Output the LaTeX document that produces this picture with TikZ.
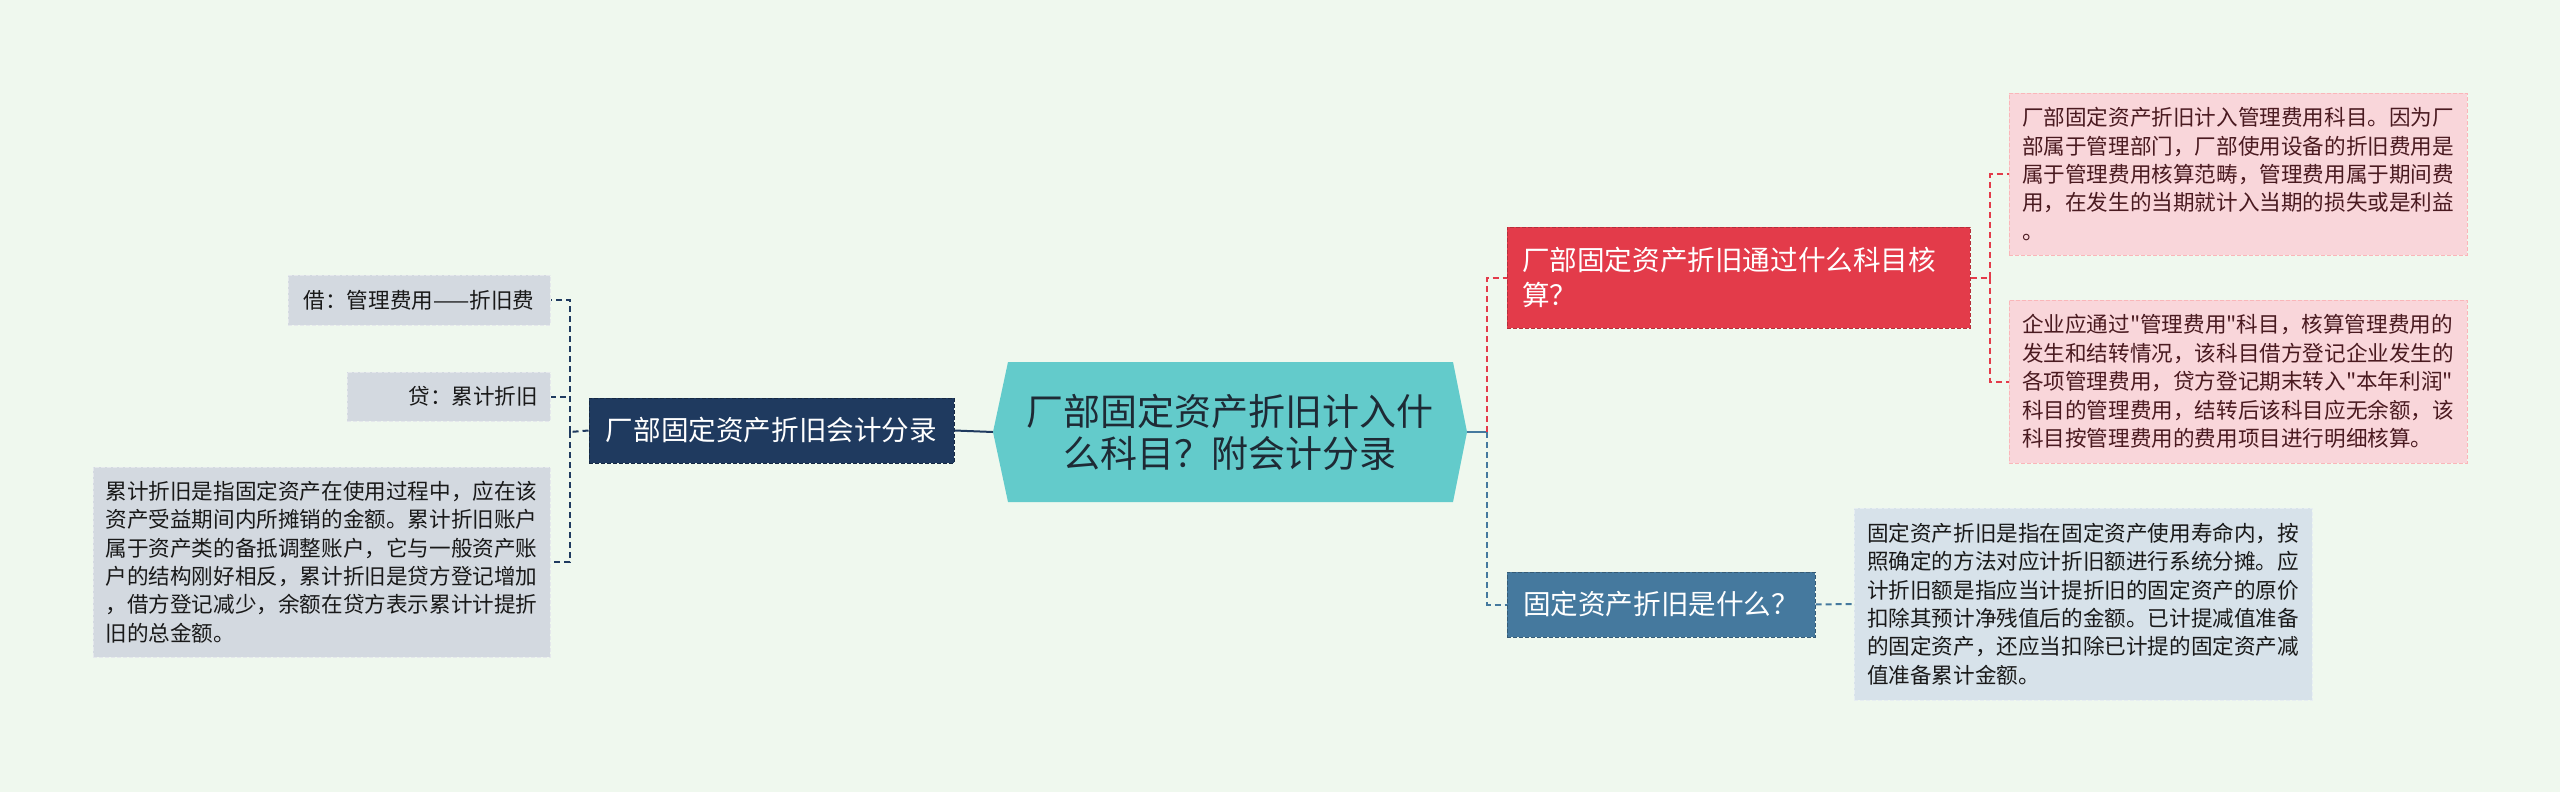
\documentclass[tikz,border=0pt]{standalone}
\usepackage{fontspec}
\setmainfont{Noto Sans CJK SC}[Ligatures=TeXOff]
\definecolor{bgc}{HTML}{EFF8EE}
\definecolor{tealc}{HTML}{63CBCB}
\definecolor{navyc}{HTML}{1F3A5F}
\definecolor{grayc}{HTML}{D3D9E0}
\definecolor{redc}{HTML}{E33B4A}
\definecolor{pinkc}{HTML}{F9D6DA}
\definecolor{steelc}{HTML}{45799E}
\definecolor{lbluec}{HTML}{D7E2EA}
\definecolor{maroonc}{HTML}{4A1A20}
\definecolor{darktext}{HTML}{1E2A35}
\begin{document}
\begin{tikzpicture}[x=1pt,y=-1pt,
  box/.style={inner sep=0pt, line width=1pt, dash pattern=on 4pt off 2pt},
  small/.style={font=\fontsize{21.6}{28.4}\selectfont},
  mid/.style={font=\fontsize{27.6}{35}\selectfont},
  central/.style={inner sep=0pt, minimum width=474pt, minimum height=140pt, align=center,
    fill=bgc, text=darktext, font=\fontsize{37}{42}\selectfont,
    path picture={\fill[tealc] ([xshift=15pt]path picture bounding box.north west) -- ([xshift=-14pt]path picture bounding box.north east) -- (path picture bounding box.east) -- ([xshift=-14pt]path picture bounding box.south east) -- ([xshift=15pt]path picture bounding box.south west) -- (path picture bounding box.west) -- cycle;}},
  navybox/.style={box, mid, fill=navyc, draw=navyc!70!black, text=white},
  graybox/.style={box, small, fill=grayc, draw=grayc!60!white, text=black!90},
  redbox/.style={box, mid, fill=redc, draw=redc!80!black, text=white},
  pinkbox/.style={box, small, fill=pinkc, draw=pinkc!85!red, text=maroonc},
  steelbox/.style={box, mid, fill=steelc, draw=steelc!75!black, text=white},
  lbluebox/.style={box, small, fill=lbluec, draw=lbluec!60!white, text=black!90},
  conn/.style={line width=2pt, dash pattern=on 6pt off 4pt},
]
\fill[bgc] (0,0) rectangle (2560,792);
\useasboundingbox (0,0) rectangle (2560,792);

\node[central] (C) at (1230,432) {厂部固定资产折旧计入什\\么科目？附会计分录};

\node[navybox, minimum width=365pt, minimum height=65pt] (L) at (771.5,430.5) {厂部固定资产折旧会计分录};
\node[graybox, minimum width=262pt, minimum height=50pt] (L1) at (419,300) {借：管理费用——折旧费};
\node[graybox, minimum height=49pt, text width=179pt, align=right, inner xsep=12pt] (L2) at (448.5,396.5) {贷：累计折旧};
\node[graybox, minimum width=457pt, minimum height=190pt, align=left] (L3) at (321.5,562) {累计折旧是指固定资产在使用过程中，应在该\\资产受益期间内所摊销的金额。累计折旧账户\\属于资产类的备抵调整账户，它与一般资产账\\户的结构刚好相反，累计折旧是贷方登记增加\\，借方登记减少，余额在贷方表示累计计提折\\旧的总金额。};

\node[redbox, minimum width=463pt, minimum height=101pt, text width=433pt, align=left] (R1) at (1738.5,277.5) {厂部固定资产折旧通过什么科目核\\算？};
\node[pinkbox, minimum width=458pt, minimum height=162pt, align=left] (P1) at (2238,174) {厂部固定资产折旧计入管理费用科目。因为厂\\部属于管理部门，厂部使用设备的折旧费用是\\属于管理费用核算范畴，管理费用属于期间费\\用，在发生的当期就计入当期的损失或是利益\\。};
\node[pinkbox, minimum width=458pt, minimum height=163pt, align=left] (P2) at (2238,381.5) {企业应通过"管理费用"科目，核算管理费用的\\发生和结转情况，该科目借方登记企业发生的\\各项管理费用，贷方登记期末转入"本年利润"\\科目的管理费用，结转后该科目应无余额，该\\科目按管理费用的费用项目进行明细核算。};

\node[steelbox, minimum width=308pt, minimum height=65pt] (R2) at (1661,604.5) {固定资产折旧是什么？};
\node[lbluebox, minimum width=458pt, minimum height=192pt, align=left] (B1) at (2083,604) {固定资产折旧是指在固定资产使用寿命内，按\\照确定的方法对应计折旧额进行系统分摊。应\\计折旧额是指应当计提折旧的固定资产的原价\\扣除其预计净残值后的金额。已计提减值准备\\的固定资产，还应当扣除已计提的固定资产减\\值准备累计金额。};

\coordinate (jl) at (570,432);
\coordinate (jr) at (1487,432);
\coordinate (jp) at (1990,277.5);

% left branch
\draw[line width=2pt, navyc] (C.west) -- (L.east);
\draw[conn, navyc] (L.west) -- (jl);
\draw[conn, navyc] (jl) |- (L1.east);
\draw[conn, navyc] (jl) |- (L2.east);
\draw[conn, navyc] (jl) |- (L3.east);

% right branch
\draw[line width=2pt, steelc] (C.east) -- (jr);
\draw[conn, redc] (jr) |- (R1.west);
\draw[conn, steelc] (jr) |- (R2.west);
\draw[conn, redc] (R1.east) -- (jp);
\draw[conn, redc] (jp) |- (P1.west);
\draw[conn, redc] (jp) |- (P2.west);
\draw[conn, steelc] (R2.east) -- (B1.west);
\end{tikzpicture}
\end{document}
